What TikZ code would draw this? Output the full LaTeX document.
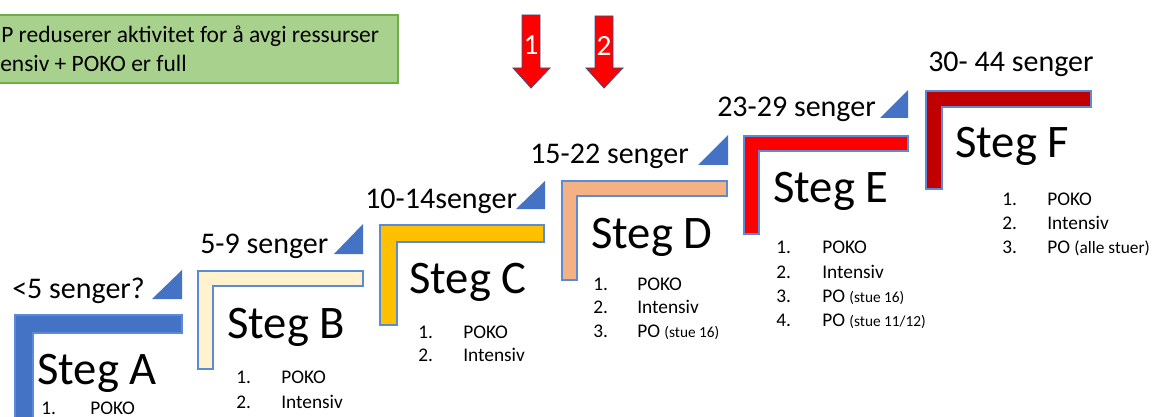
\documentclass[tikz,border=0pt]{standalone}
\usepackage{fontspec}
\setmainfont{Carlito}
\definecolor{barA}{HTML}{4472C4}
\definecolor{barB}{HTML}{FFF2CC}
\definecolor{barC}{HTML}{FFC000}
\definecolor{barD}{HTML}{F4B183}
\definecolor{barE}{HTML}{FF0000}
\definecolor{barF}{HTML}{C00000}
\definecolor{edge}{HTML}{5B8BD8}
\definecolor{notefill}{HTML}{A9D18E}
\definecolor{noteedge}{HTML}{70AD47}
\definecolor{arrowedge}{HTML}{2F528F}
\newcommand{\smalltxt}[1]{{\fontsize{11.5}{14}\selectfont #1}}
\newcommand{\midtxt}[1]{{\fontsize{13}{15}\selectfont #1}}
% L bars: colour, x0, y0, width, thickness, height
\newcommand{\lbar}[6]{%
  \draw[barshape,fill=#1] (#2,#3) -- ++(#4,0) -- ++(0,#5) -- (#2+#5,#3+#5) -- (#2+#5,#3+#6) -- (#2,#3+#6) -- cycle;}
\begin{document}
\begin{tikzpicture}[x=0.75pt,y=-0.75pt,
  lbl/.style={inner sep=0,anchor=base west,font=\fontsize{22.5}{27}\selectfont},
  steglbl/.style={inner sep=0,anchor=base west,font=\fontsize{35}{42}\selectfont},
  lst/.style={inner sep=0,anchor=base west,font=\fontsize{14.5}{17}\selectfont},
  notetxt/.style={inner sep=0,anchor=base west,font=\fontsize{17.6}{21}\selectfont},
  numtxt/.style={inner sep=0,text=white,font=\fontsize{22}{26}\selectfont},
  barshape/.style={draw=edge,line width=0.8pt,line join=miter},
  tri/.style={fill=barA,draw=none}]
\useasboundingbox (0,0) rectangle (1152,417);

% note box
\draw[fill=notefill,draw=noteedge,line width=0.8pt] (-10,15) rectangle (398,83);
\node[notetxt] (note1) at (1,43) {P reduserer aktivitet for å avgi ressurser};
\node[notetxt] (note2) at (0,72) {ensiv + POKO er full};

% arrows
\draw[fill=red,draw=arrowedge,line width=0.6pt] (522,15) -- (540,15) -- (540,68) -- (550,68) -- (531,88) -- (513,68) -- (522,68) -- cycle;
\node[numtxt] (n1) at (531,45) {1};
\draw[fill=red,draw=arrowedge,line width=0.6pt] (595,16) -- (613,16) -- (613,68) -- (623,68) -- (604,88) -- (586,68) -- (595,68) -- cycle;
\node[numtxt] (n2) at (604,46) {2};

\lbar{barA}{15}{315}{167}{18}{110}
\lbar{barB}{198}{271}{165}{15}{98}
\lbar{barC}{380}{225}{164}{17}{100}
\lbar{barD}{562}{181}{165}{15}{99}
\lbar{barE}{744}{136}{164}{15}{98}
\lbar{barF}{926}{91}{165}{16}{98}

% triangles
\fill[tri] (152,299) -- (182,299) -- (182,270) -- cycle;
\fill[tri] (334,254) -- (363,254) -- (363,224) -- cycle;
\fill[tri] (516,209) -- (545,209) -- (545,181) -- cycle;
\fill[tri] (698,165) -- (728,165) -- (728,135) -- cycle;
\fill[tri] (880,118) -- (908,118) -- (908,90) -- cycle;

% range labels
\node[lbl] (rA) at (12,298) {<5 senger?};
\node[lbl] (rB) at (200,253) {5-9 senger};
\node[lbl] (rC) at (365,208) {10-14senger};
\node[lbl] (rD) at (530,163) {15-22 senger};
\node[lbl] (rE) at (717,117) {23-29 senger};
\node[lbl] (rF) at (928,72) {30- 44 senger};

% step labels
\node[steglbl] (sA) at (37,384) {Steg A};
\node[steglbl] (sB) at (227,338) {Steg B};
\node[steglbl] (sC) at (409,293) {Steg C};
\node[steglbl] (sD) at (591,248) {Steg D};
\node[steglbl] (sE) at (773,202) {Steg E};
\node[steglbl] (sF) at (955,157) {Steg F};

% lists
\node[lst] (a1n) at (41,414) {1.};  \node[lst] (a1) at (90,414) {POKO};

\node[lst] (b1n) at (236,383) {1.}; \node[lst] (b1) at (281,383) {POKO};
\node[lst] (b2n) at (236,408) {2.}; \node[lst] (b2) at (281,408) {Intensiv};

\node[lst] (c1n) at (418,338) {1.}; \node[lst] (c1) at (463,338) {POKO};
\node[lst] (c2n) at (418,361) {2.}; \node[lst] (c2) at (463,361) {Intensiv};

\node[lst] (d1n) at (593,290) {1.}; \node[lst] (d1) at (637,290) {POKO};
\node[lst] (d2n) at (593,313) {2.}; \node[lst] (d2) at (637,313) {Intensiv};
\node[lst] (d3n) at (593,337) {3.}; \node[lst] (d3) at (637,337) {PO \smalltxt{(stue 16)}};

\node[lst] (e1n) at (776,253) {1.}; \node[lst] (e1) at (822,253) {POKO};
\node[lst] (e2n) at (776,278) {2.}; \node[lst] (e2) at (822,278) {Intensiv};
\node[lst] (e3n) at (776,302) {3.}; \node[lst] (e3) at (822,302) {PO \smalltxt{(stue 16)}};
\node[lst] (e4n) at (776,326) {4.}; \node[lst] (e4) at (822,326) {PO \smalltxt{(stue 11/12)}};

\node[lst] (f1n) at (1002,205) {1.}; \node[lst] (f1) at (1047,205) {POKO};
\node[lst] (f2n) at (1002,229) {2.}; \node[lst] (f2) at (1047,229) {Intensiv};
\node[lst] (f3n) at (1002,253) {3.}; \node[lst] (f3) at (1047,253) {PO \midtxt{(alle stuer)}};
\end{tikzpicture}
\end{document}
